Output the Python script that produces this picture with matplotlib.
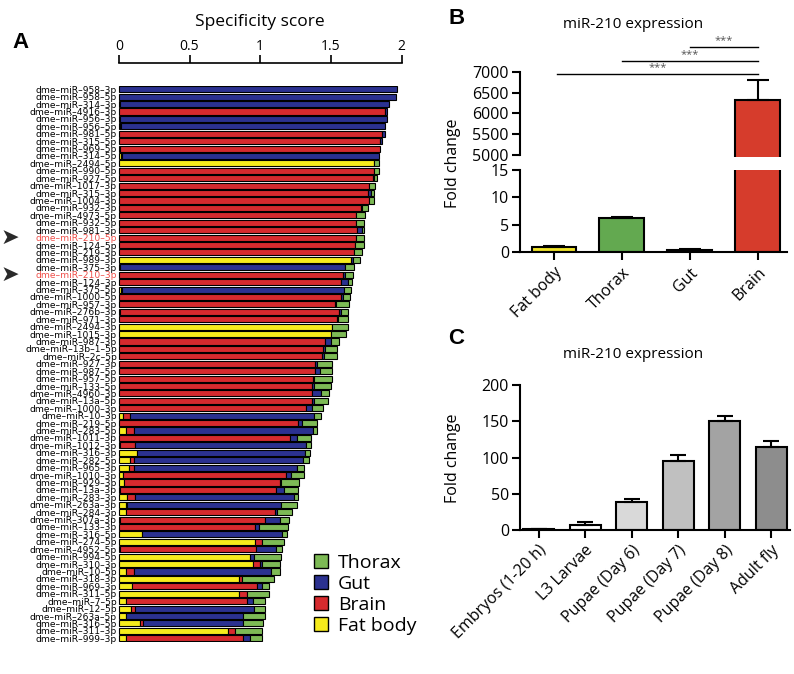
import matplotlib.pyplot as plt
from matplotlib.patches import Patch
import numpy as np

# ---- panel A data: specificity score split by tissue ----
mirnas = ['dme-miR-958-3p', 'dme-miR-958-5p', 'dme-miR-314-3p', 'dme-miR-4916-3p', 'dme-miR-956-3p',
          'dme-miR-956-5p', 'dme-miR-981-5p', 'dme-miR-315-5p', 'dme-miR-969-5p', 'dme-miR-314-5p',
          'dme-miR-2494-5p', 'dme-miR-990-5p', 'dme-miR-927-5p', 'dme-miR-1017-3p', 'dme-miR-315-3p',
          'dme-miR-1004-3p', 'dme-miR-932-3p', 'dme-miR-4973-5p', 'dme-miR-932-5p', 'dme-miR-981-3p',
          'dme-miR-210-5p', 'dme-miR-124-5p', 'dme-miR-219-3p', 'dme-miR-989-3p', 'dme-miR-375-3p',
          'dme-miR-210-3p', 'dme-miR-124-3p', 'dme-miR-375-5p', 'dme-miR-1000-5p', 'dme-miR-957-3p',
          'dme-miR-276b-3p', 'dme-miR-971-3p', 'dme-miR-2494-3p', 'dme-miR-1015-3p', 'dme-miR-987-3p',
          'dme-miR-13b-1-5p', 'dme-miR-2c-5p', 'dme-miR-927-3p', 'dme-miR-987-5p', 'dme-miR-957-5p',
          'dme-miR-133-5p', 'dme-miR-4960-3p', 'dme-miR-13a-5p', 'dme-miR-1000-3p', 'dme-miR-10-3p',
          'dme-miR-219-5p', 'dme-miR-283-5p', 'dme-miR-1011-3p', 'dme-miR-1012-3p', 'dme-miR-316-3p',
          'dme-miR-282-5p', 'dme-miR-965-3p', 'dme-miR-1010-3p', 'dme-miR-929-3p', 'dme-miR-13a-3p',
          'dme-miR-283-3p', 'dme-miR-263a-3p', 'dme-miR-284-3p', 'dme-miR-307a-3p', 'dme-miR-133-3p',
          'dme-miR-316-5p', 'dme-miR-274-5p', 'dme-miR-4952-5p', 'dme-miR-994-5p', 'dme-miR-310-3p',
          'dme-miR-10-5p', 'dme-miR-318-3p', 'dme-miR-969-3p', 'dme-miR-311-5p', 'dme-miR-7-5p',
          'dme-miR-12-5p', 'dme-miR-263a-5p', 'dme-miR-316-5p', 'dme-miR-311-3p', 'dme-miR-999-3p']

fat_body = [0, 0, 0.01, 0, 0.01, 0.01, 0, 0, 0.01, 0.015,
            1.806, 0, 0, 0, 0, 0, 0, 0, 0, 0,
            0, 0, 0, 1.641, 0.01, 0, 0, 0.012, 0, 0,
            0.01, 0, 1.509, 1.50, 0, 0, 0, 0, 0, 0,
            0, 0, 0, 0, 0.031, 0, 0.052, 0, 0.01, 0.125,
            0.076, 0.071, 0.031, 0.035, 0.01, 0.059, 0.047, 0.047, 0.01, 0,
            0.165, 0.965, 0.01, 0.93, 0.949, 0.047, 0.848, 0.095, 0.848, 0.052,
            0.085, 0.047, 0.15, 0.77, 0.05]
brain = [0, 0, 0, 1.885, 0, 0.005, 1.86, 1.85, 1.84, 0.005,
         0, 1.805, 1.80, 1.768, 1.765, 1.773, 1.714, 1.676, 1.679, 1.688,
         1.679, 1.668, 1.667, 0, 0, 1.585, 1.575, 0.012, 1.57, 1.53,
         1.551, 1.542, 0, 0, 1.462, 1.443, 1.439, 1.389, 1.391, 1.373,
         1.368, 1.368, 1.368, 1.323, 0.047, 1.269, 0.054, 1.208, 0.103, 0,
         0.03, 0.035, 1.153, 1.102, 1.101, 0.057, 0.008, 1.055, 1.026, 0.965,
         0, 0.048, 0.958, 0, 0.047, 0.059, 0.023, 0.882, 0.059, 0.855,
         0.028, 0, 0.02, 0.05, 0.83]
gut = [1.97, 1.96, 1.90, 0.015, 1.89, 1.87, 0.02, 0.015, 0, 1.82,
       0, 0, 0.005, 0, 0.022, 0, 0.01, 0, 0, 0.035,
       0, 0, 0, 0.019, 1.593, 0.014, 0.049, 1.566, 0.019, 0.01,
       0.01, 0.01, 0, 0, 0.04, 0.019, 0.014, 0.012, 0.033, 0.01,
       0.012, 0.061, 0.014, 0.042, 1.306, 0.026, 1.267, 0.052, 1.208, 1.193,
       1.196, 1.158, 0.033, 0.013, 0.061, 1.12, 1.092, 0.016, 0.106, 0.024,
       0.989, 0, 0.143, 0.023, 0.014, 0.97, 0, 0.036, 0, 0.042,
       0.84, 0.831, 0.71, 0, 0.05]
thorax = [0, 0, 0, 0, 0, 0, 0, 0, 0, 0,
          0.037, 0.035, 0.025, 0.045, 0.019, 0.033, 0.042, 0.066, 0.058, 0.014,
          0.058, 0.065, 0.056, 0.047, 0.062, 0.056, 0.024, 0.051, 0.047, 0.089,
          0.051, 0.072, 0.111, 0.108, 0.059, 0.082, 0.089, 0.11, 0.083, 0.124,
          0.122, 0.061, 0.101, 0.076, 0.047, 0.11, 0.028, 0.101, 0.04, 0.036,
          0.045, 0.043, 0.09, 0.126, 0.099, 0.035, 0.113, 0.109, 0.059, 0.205,
          0.035, 0.152, 0.043, 0.194, 0.132, 0.066, 0.224, 0.051, 0.152, 0.087,
          0.078, 0.153, 0.14, 0.19, 0.08]
highlight = ['dme-miR-210-5p', 'dme-miR-210-3p']

# ---- panel B data ----
tissues = ['Fat body', 'Thorax', 'Gut', 'Brain']
tissue_fc = [1.0, 6.2, 0.45, 6320]
tissue_err = [0.2, 0.15, 0.1, 480]

# ---- panel C data ----
stages = ['Embryos (1-20 h)', 'L3 Larvae', 'Pupae (Day 6)', 'Pupae (Day 7)', 'Pupae (Day 8)', 'Adult fly']
stage_fc = [1, 7, 39, 95, 151, 115]
stage_err = [0.5, 4, 4, 9, 6, 8]

c_green, c_blue, c_red, c_yellow = '#7dba55', '#2b3190', '#d62a2e', '#f6eb1c'

plt.rcParams['font.family'] = ['Open Sans', 'DejaVu Sans']
W, H = 794, 674
fig = plt.figure(figsize=(W / 100, H / 100), dpi=100)


def box(l, t, r, b):
    return [l / W, 1 - b / H, (r - l) / W, (b - t) / H]


# ================= A =================
axA = fig.add_axes(box(118.3, 85.5, 401.5, 642))
n = len(mirnas)
y = np.arange(n)
left = np.zeros(n)
for vals, col in [(fat_body, c_yellow), (brain, c_red), (gut, c_blue), (thorax, c_green)]:
    vals = np.array(vals)
    lw = np.where(vals > 0, 0.8, 0)
    axA.barh(y, vals, left=left, height=0.82, color=col, edgecolor='black', linewidth=lw)
    left += vals
axA.set_ylim(n - 0.5, -0.5)
axA.set_xlim(-0.004, 2)
axA.xaxis.tick_top()
axA.xaxis.set_label_position('top')
axA.set_xticks([0, 0.5, 1, 1.5, 2])
axA.set_xticklabels(['0', '0.5', '1', '1.5', '2'], fontsize=11.5)
axA.set_xlabel('Specificity score', fontsize=12.5, labelpad=9)
for s in ['right', 'bottom', 'left']:
    axA.spines[s].set_visible(False)
axA.spines['top'].set_position(('outward', 16))
axA.spines['top'].set_bounds(0, 2)
axA.spines['top'].set_linewidth(1.2)
axA.tick_params(axis='x', length=6, width=1.2, pad=1)
axA.set_yticks(y)
axA.set_yticklabels([m.replace('-', '\u2013') for m in mirnas], fontsize=6.6, family=['DejaVu Sans'])
axA.tick_params(axis='y', length=0, pad=1)
for lab, m in zip(axA.get_yticklabels(), mirnas):
    if m in highlight:
        lab.set_color('#f0504a')

# arrow heads next to the highlighted labels
for name in highlight:
    i = mirnas.index(name)
    axA.text(-0.84, i, '\u27a4', ha='left', va='center', fontsize=16, color='#2a2a2a',
             family=['DejaVu Sans'], clip_on=False)

axA.legend(handles=[Patch(fc=c_green, ec='black', label='Thorax'),
                    Patch(fc=c_blue, ec='black', label='Gut'),
                    Patch(fc=c_red, ec='black', label='Brain'),
                    Patch(fc=c_yellow, ec='black', label='Fat body')],
           loc='upper left', bbox_to_anchor=(306 / W, 1 - 546 / H), bbox_transform=fig.transFigure,
           frameon=False, fontsize=14, handlelength=0.75, handleheight=0.75,
           labelspacing=0.16, handletextpad=0.5, borderaxespad=0)

fig.text(12 / W, 1 - 43 / H, 'A', fontsize=16, fontweight='bold', va='center', family=['Liberation Sans', 'DejaVu Sans'])

# ================= B =================
b_colors = ['#f1e52a', '#63a950', '#2e3b5e', '#d63c2c']
xb = np.arange(len(tissues))
axBt = fig.add_axes(box(520, 71.7, 787, 157.1))
axBb = fig.add_axes(box(520, 170, 787, 252.3))
for ax in (axBt, axBb):
    ax.bar(xb, tissue_fc, width=0.66, color=b_colors, edgecolor='black', linewidth=1.5)
    ax.errorbar(xb, tissue_fc, yerr=[np.zeros(len(xb)), tissue_err], fmt='none',
                ecolor='black', elinewidth=1.5, capsize=8, capthick=1.5)
    ax.set_xlim(-0.5, 3.43)
    ax.spines['top'].set_visible(False)
    ax.spines['right'].set_visible(False)
    ax.spines['left'].set_linewidth(1.5)
    ax.spines['bottom'].set_linewidth(1.5)
    ax.tick_params(axis='y', length=6, width=1.5, labelsize=11.5, pad=2)
axBt.set_ylim(4950, 7000)
axBt.spines['left'].set_bounds(5000, 7000)
axBt.spines['bottom'].set_visible(False)
axBt.set_xticks([])
axBt.set_yticks([5000, 5500, 6000, 6500, 7000])
axBb.set_ylim(0, 15)
axBb.set_yticks([0, 5, 10, 15])
axBb.set_xticks(xb)
axBb.set_xticklabels(tissues, rotation=45, ha='right', rotation_mode='anchor', fontsize=11.5)
axBb.tick_params(axis='x', length=6, width=1.5, pad=3)

# significance bars
for x0, yl in [(2, 7600), (1, 7264), (0.05, 6945)]:
    axBt.plot([x0, 3], [yl, yl], color='black', lw=1, clip_on=False)
    axBt.text((x0 + 3) / 2, yl + 20, '***', ha='center', va='bottom', fontsize=8, color='#555555')

fig.text(633 / W, 1 - 25 / H, 'miR-210 expression', ha='center', va='center', fontsize=11)
fig.text(453 / W, 1 - 163 / H, 'Fold change', ha='center', va='center', rotation=90, fontsize=11.5)
fig.text(448 / W, 1 - 18 / H, 'B', fontsize=16, fontweight='bold', va='center', family=['Liberation Sans', 'DejaVu Sans'])

# ================= C =================
c_colors = ['white', 'white', '#d9d9d9', '#c0c0c0', '#a3a3a3', '#8d8d8d']
xc = np.arange(len(stages))
axC = fig.add_axes(box(520, 385, 790, 530))
axC.bar(xc, stage_fc, width=0.66, color=c_colors, edgecolor='black', linewidth=1.5)
axC.errorbar(xc, stage_fc, yerr=[np.zeros(len(xc)), stage_err], fmt='none',
             ecolor='black', elinewidth=1.5, capsize=6, capthick=1.5)
axC.set_xlim(-0.4, 5.4)
axC.set_ylim(0, 200)
axC.set_yticks([0, 50, 100, 150, 200])
axC.set_xticks(xc)
axC.set_xticklabels(stages, rotation=45, ha='right', rotation_mode='anchor', fontsize=11.5)
axC.spines['top'].set_visible(False)
axC.spines['right'].set_visible(False)
axC.spines['left'].set_linewidth(1.5)
axC.spines['bottom'].set_linewidth(1.5)
axC.tick_params(axis='y', length=6, width=1.5, labelsize=11.5, pad=2)
axC.tick_params(axis='x', length=6, width=1.5, pad=3)
fig.text(453 / W, 1 - 458 / H, 'Fold change', ha='center', va='center', rotation=90, fontsize=11.5)
fig.text(633 / W, 1 - 355 / H, 'miR-210 expression', ha='center', va='center', fontsize=11)
fig.text(448 / W, 1 - 338 / H, 'C', fontsize=16, fontweight='bold', va='center', family=['Liberation Sans', 'DejaVu Sans'])

fig.savefig('out.png', dpi=100)
